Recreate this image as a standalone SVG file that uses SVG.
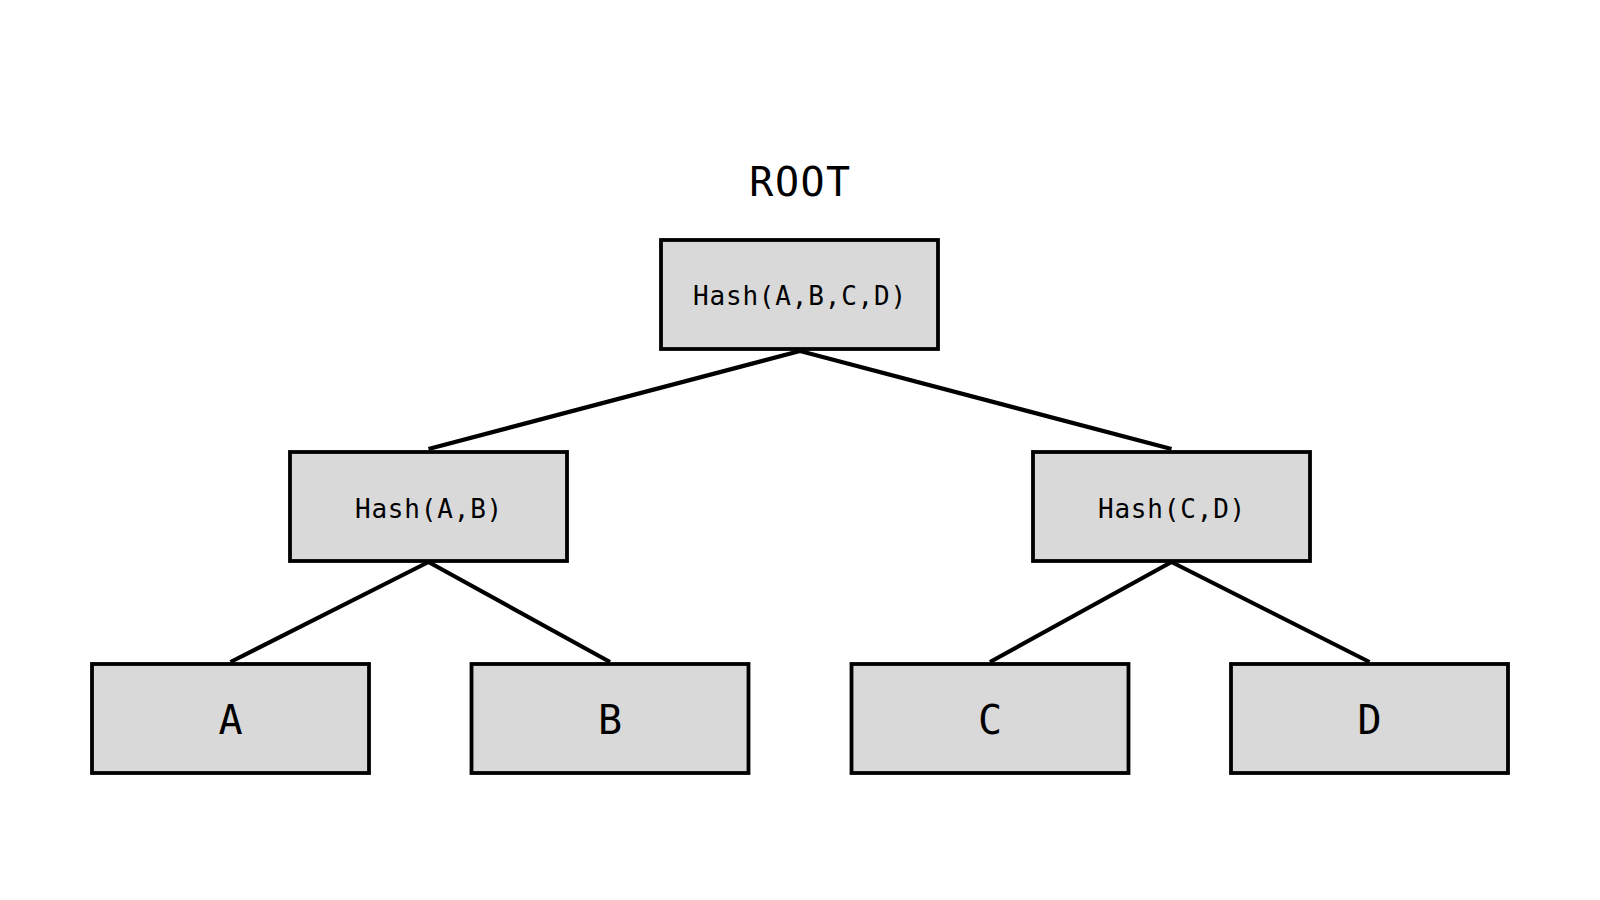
<svg xmlns="http://www.w3.org/2000/svg" width="1600" height="900" viewBox="0 0 1600 900">
<style>
.box{fill:#d9d9d9;stroke:#000;stroke-width:3.8}
.t{font-family:"DejaVu Sans Mono","Liberation Mono",monospace;fill:#000;text-anchor:middle}
.s{font-size:26px;letter-spacing:0.8px}
.b{font-size:40px}
.r{letter-spacing:1.5px}
.e{stroke:#000;stroke-width:4.2;fill:none}
</style>
<rect width="1600" height="900" fill="#fff"/>
<text class="t b r" x="800.5" y="196">ROOT</text>
<g id="connectors">
<line class="e" x1="800" y1="351" x2="428.5" y2="449"/>
<line class="e" x1="800" y1="351" x2="1171.5" y2="449"/>
<line class="e" x1="428.5" y1="562" x2="230.5" y2="662"/>
<line class="e" x1="428.5" y1="562" x2="610" y2="662"/>
<line class="e" x1="1171.5" y1="562" x2="990" y2="662"/>
<line class="e" x1="1171.5" y1="562" x2="1369.5" y2="662"/>
</g>
<g id="root"><rect class="box" x="661" y="240" width="277" height="109"/><text class="t s" x="800" y="305">Hash(A,B,C,D)</text></g>
<g id="hab"><rect class="box" x="290" y="452" width="277" height="109"/><text class="t s" x="429" y="518">Hash(A,B)</text></g>
<g id="hcd"><rect class="box" x="1033" y="452" width="277" height="109"/><text class="t s" x="1172" y="518">Hash(C,D)</text></g>
<g id="a"><rect class="box" x="92" y="664" width="277" height="109"/><text class="t b" x="230.5" y="734">A</text></g>
<g id="b"><rect class="box" x="471.5" y="664" width="277" height="109"/><text class="t b" x="610" y="734">B</text></g>
<g id="c"><rect class="box" x="851.5" y="664" width="277" height="109"/><text class="t b" x="990" y="734">C</text></g>
<g id="d"><rect class="box" x="1231" y="664" width="277" height="109"/><text class="t b" x="1369.5" y="734">D</text></g>
</svg>
